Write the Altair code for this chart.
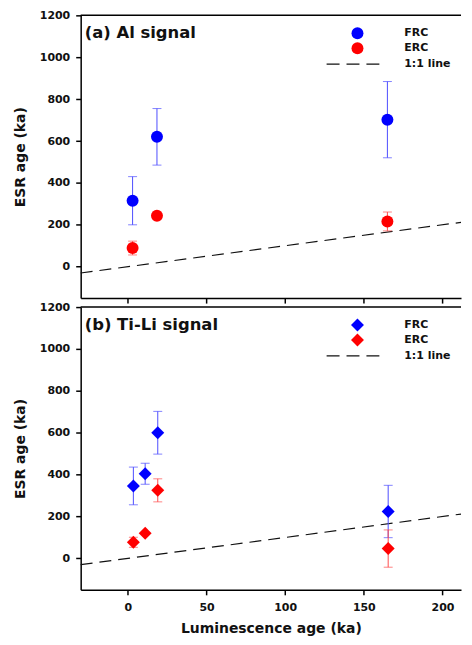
import altair as alt
import pandas as pd

# ---- data ----
series_names = ["FRC", "ERC"]
point_colors = ["#0000ff", "#ff0000"]
err_colors = ["#4d4dff", "#ff4d4d"]

# (a) Al signal
al_x = [3, 18.5, 165]
al_frc_y = [315, 620, 702]
al_frc_err = [115, 135, 182]
al_erc_y = [89, 243, 216]
al_erc_err = [33, 0, 45]

# (b) Ti-Li signal
ti_x = [3.5, 11, 19, 165.5]
ti_frc_y = [346, 404, 600, 224]
ti_frc_err = [90, 50, 102, 125]
ti_erc_y = [77, 120, 325, 47]
ti_erc_err = [24, 0, 55, 89]

x_ticks = [0, 50, 100, 150, 200]
y_ticks = [0, 200, 400, 600, 800, 1000, 1200]
x_domain = [-30, 211.8]
y_domain = [-150, 1200]

# 1:1 line end points
line_x = [-30, 211.8]

W, H = 382, 284
FONT = "DejaVu Sans"


def build_df(xs, frc_y, frc_err, erc_y, erc_err):
    rows = []
    for x, y, e in zip(xs, frc_y, frc_err):
        rows.append({"x": x, "y": y, "lo": y - e, "hi": y + e, "series": "FRC"})
    for x, y, e in zip(xs, erc_y, erc_err):
        rows.append({"x": x, "y": y, "lo": y - e, "hi": y + e, "series": "ERC"})
    return pd.DataFrame(rows)


line_df = pd.DataFrame({"x": line_x, "y": line_x})
one = pd.DataFrame({"k": [0]})

xscale = alt.Scale(domain=x_domain, nice=False, zero=False)
yscale = alt.Scale(domain=y_domain, nice=False, zero=False)


def panel(df, shape, size, title, bottom):
    if bottom:
        xaxis = alt.Axis(values=x_ticks, title="Luminescence age (ka)", labels=True,
                         labelPadding=7, titlePadding=9, format="d")
    else:
        xaxis = alt.Axis(values=x_ticks, title=None, labels=False)
    yaxis = alt.Axis(values=y_ticks, title="ESR age (ka)", labelPadding=6, titlePadding=12,
                     format="d")

    def X(f):
        return alt.X(f, type="quantitative", scale=xscale, axis=xaxis)

    def Y(f):
        return alt.Y(f, type="quantitative", scale=yscale, axis=yaxis)

    layers = []
    layers.append(alt.Chart(line_df).mark_line(color="#111111", strokeWidth=1.2,
                                               strokeDash=[12, 7]).encode(x=X("x"), y=Y("y")))
    layers.append(alt.Chart(one).mark_rule(color="black", strokeWidth=1.5).encode(
        x=alt.value(0), x2=alt.value(W), y=alt.value(0)))

    for s, ec in zip(series_names, err_colors):
        d = df[df["series"] == s]
        layers.append(alt.Chart(d).mark_rule(strokeWidth=1, color=ec).encode(
            x=X("x"), y=Y("lo"), y2="hi"))
        layers.append(alt.Chart(d).mark_tick(orient="horizontal", size=9, thickness=1,
                                             color=ec).encode(x=X("x"), y=Y("lo")))
        layers.append(alt.Chart(d).mark_tick(orient="horizontal", size=9, thickness=1,
                                             color=ec).encode(x=X("x"), y=Y("hi")))
    for s, pc in zip(series_names, point_colors):
        d = df[df["series"] == s]
        layers.append(alt.Chart(d).mark_point(filled=True, shape=shape, size=size, opacity=1,
                                              color=pc, strokeWidth=0).encode(
            x=X("x"), y=Y("y")))

    # legend
    for s, pc, yy in zip(series_names, point_colors, [18, 33]):
        layers.append(alt.Chart(one).mark_point(filled=True, shape=shape, size=size, opacity=1,
                                                color=pc, strokeWidth=0).encode(
            x=alt.value(278), y=alt.value(yy)))
    layers.append(alt.Chart(one).mark_rule(color="#111111", strokeWidth=1.2,
                                           strokeDash=[13, 7]).encode(
        x=alt.value(247), x2=alt.value(304), y=alt.value(49)))
    txt = dict(font=FONT, fontWeight="bold", fontSize=11, align="left",
               baseline="middle", color="#111111")
    for lab, yy in zip(series_names + ["1:1 line"], [18, 33, 49]):
        layers.append(alt.Chart(one).mark_text(text=lab, **txt).encode(
            x=alt.value(325), y=alt.value(yy)))

    layers.append(alt.Chart(one).mark_text(text=title, font=FONT, fontWeight="bold",
                                           fontSize=16.5, align="left", baseline="middle",
                                           color="#111111").encode(
        x=alt.value(4), y=alt.value(18)))

    return alt.layer(*layers).properties(width=W, height=H)


df_a = build_df(al_x, al_frc_y, al_frc_err, al_erc_y, al_erc_err)
df_b = build_df(ti_x, ti_frc_y, ti_frc_err, ti_erc_y, ti_erc_err)

pa = panel(df_a, "circle", 144, "(a) Al signal", False)
pb = panel(df_b, "diamond", 169, "(b) Ti-Li signal", True)

chart = alt.vconcat(pa, pb, spacing=9, bounds="flush").properties(
    padding={"left": 5, "top": 0, "right": 0, "bottom": 0}
).configure_view(stroke=None).configure_axis(
    grid=False,
    domainColor="black", domainWidth=1.5,
    tickColor="black", tickWidth=1.5, tickSize=5,
    labelFont=FONT, labelFontWeight="bold", labelFontSize=11, labelColor="#111111",
    titleFont=FONT, titleFontWeight="bold", titleFontSize=14, titleColor="#111111",
)

chart.save("out.html", embed_options={"renderer": "svg", "actions": False})
